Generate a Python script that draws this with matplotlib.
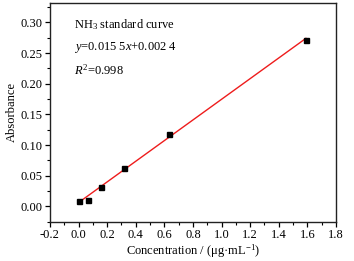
import numpy as np
import matplotlib

matplotlib.use("Agg")
import matplotlib.pyplot as plt
from matplotlib.ticker import MultipleLocator

# NH3 standard curve data
conc = [0.0, 0.064, 0.156, 0.318, 0.636, 1.59]
absorbance = [0.008, 0.010, 0.032, 0.062, 0.118, 0.272]
label_lines = ["NH$_3$ standard curve", "$y$=0.015 5$x$+0.002 4", "$R^2$=0.998"]

plt.rcParams["font.family"] = ["Liberation Serif", "DejaVu Serif"]
plt.rcParams["mathtext.fontset"] = "custom"
plt.rcParams["mathtext.rm"] = "Liberation Serif"
plt.rcParams["mathtext.it"] = "Liberation Serif:italic"

fs = 9
fig = plt.figure(figsize=(3.54, 2.61), dpi=100)
ax = fig.add_axes([0.141, 0.151, 0.808, 0.838])

slope, icpt = np.polyfit(conc, absorbance, 1)
xs = np.array([min(conc), max(conc)])
ax.plot(xs, slope * xs + icpt, color="#ee1c1c", lw=1.0, zorder=2)
ax.plot(conc, absorbance, "s", color="black", ms=3.6, zorder=3)

ax.set_xlim(-0.2, 1.8)
ax.set_ylim(-0.025, 0.332)
ax.xaxis.set_minor_locator(MultipleLocator(0.1))
ax.yaxis.set_minor_locator(MultipleLocator(0.025))
xt = np.arange(-0.2, 1.81, 0.2)
yt = np.arange(0, 0.31, 0.05)
ax.set_xticks(xt)
ax.set_xticklabels([f"{v:.1f}" for v in xt])
ax.set_yticks(yt)
ax.set_yticklabels([f"{v:.2f}" for v in yt])
ax.tick_params(which="major", direction="out", length=3.5, width=0.9, labelsize=fs, pad=2)
ax.tick_params(which="minor", direction="out", length=2, width=0.8)
for sp in ax.spines.values():
    sp.set_linewidth(1.0)
    sp.set_color("#222222")

ax.set_xlabel("Concentration / (μg·mL$^{-1}$)", fontsize=fs, labelpad=1)
ax.set_ylabel("Absorbance", fontsize=fs, labelpad=2)

for i, line in enumerate(label_lines):
    ax.text(0.084, 0.90 - i * 0.105, line, transform=ax.transAxes, fontsize=fs, va="center", ha="left")

fig.savefig("out.png", dpi=100)
